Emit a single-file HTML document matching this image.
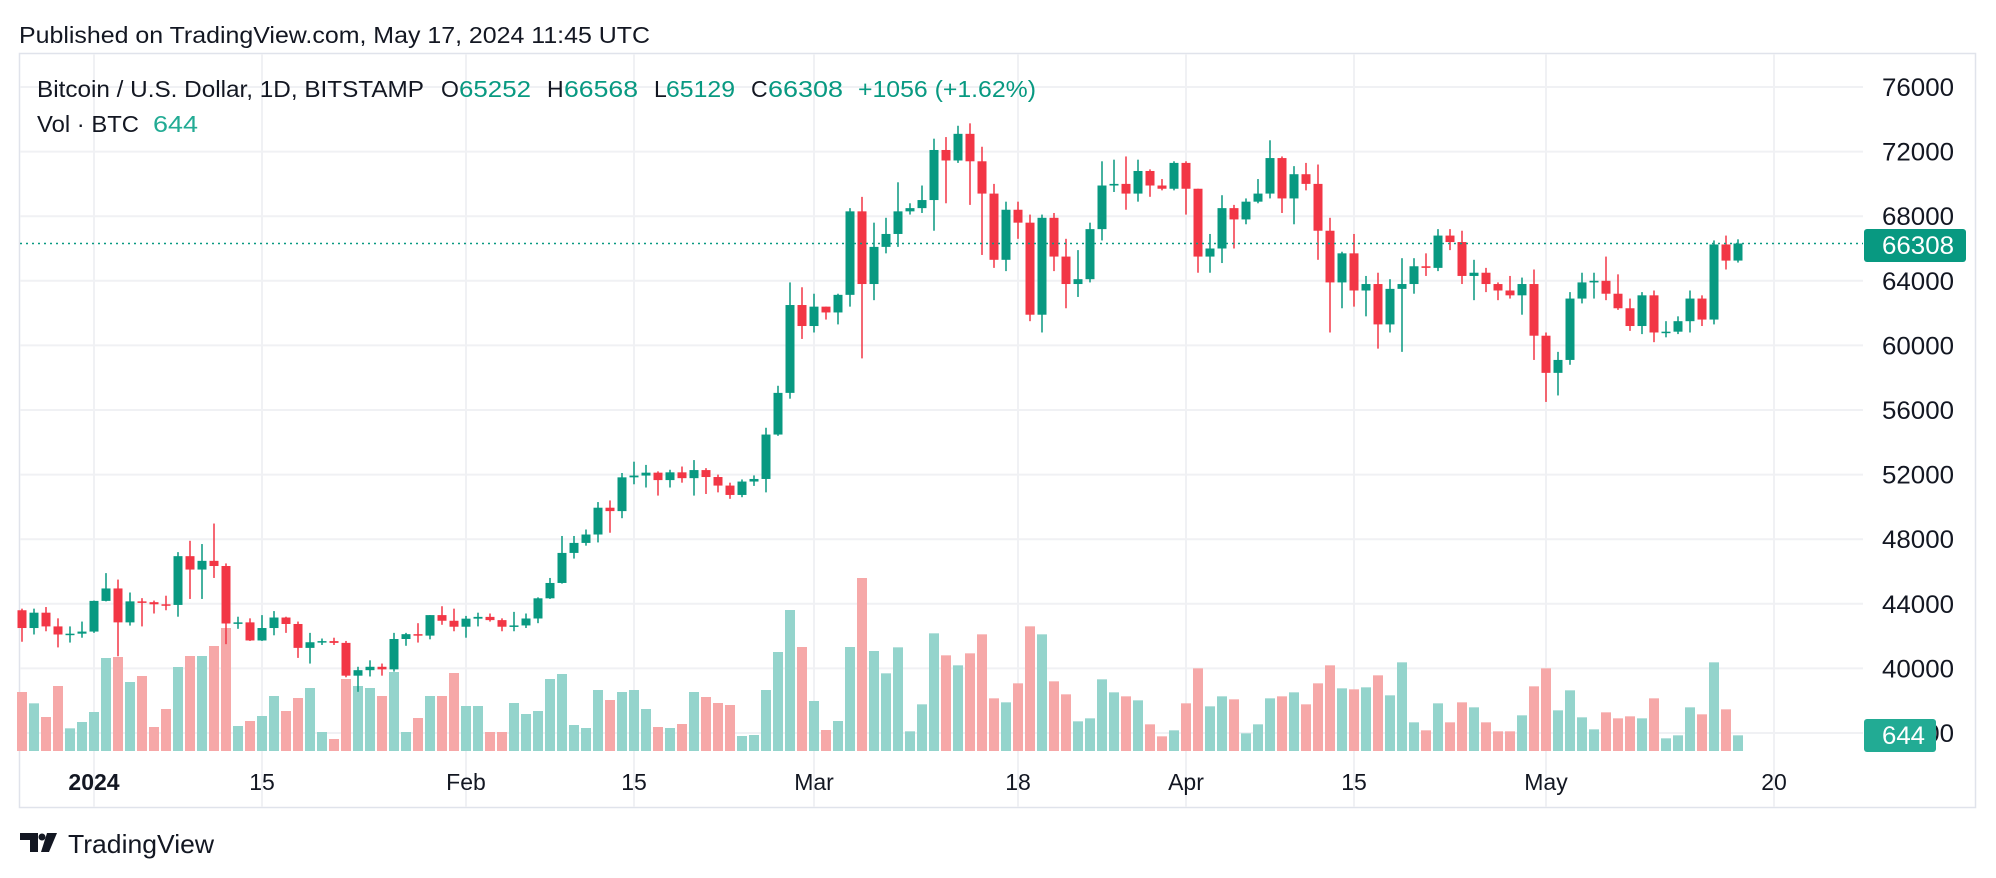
<!DOCTYPE html>
<html><head><meta charset="utf-8"><style>
html,body{margin:0;padding:0;background:#fff;width:1996px;height:878px;overflow:hidden}
svg{display:block;font-family:"Liberation Sans",sans-serif}
</style></head><body>
<svg id="s" width="1996" height="878" viewBox="0 0 1996 878" xmlns="http://www.w3.org/2000/svg">
<rect x="0" y="0" width="1996" height="878" fill="#fff"/>
<text x="19" y="43" font-size="23" fill="#131722" textLength="631" lengthAdjust="spacingAndGlyphs">Published on TradingView.com, May 17, 2024 11:45 UTC</text>
<rect x="19.5" y="53.5" width="1956" height="754" fill="none" stroke="#e0e3eb" stroke-width="1.5"/>
<g id="grid"></g>
<g id="vol"></g>
<g id="cand"></g>
<line x1="20" y1="243.5" x2="1863" y2="243.5" stroke="#089981" stroke-width="1.5" stroke-dasharray="2,4"/>
<g id="axis" font-size="25" fill="#131722"></g>
<rect x="1864" y="229" width="102" height="33" rx="3" fill="#089981"/>
<text x="1882" y="254" font-size="25" fill="#fff" textLength="72" lengthAdjust="spacingAndGlyphs">66308</text>
<rect x="1864" y="719" width="72" height="33" rx="3" fill="#22ab94"/>
<text x="1882" y="744" font-size="25" fill="#fff" textLength="43" lengthAdjust="spacingAndGlyphs">644</text>
<g font-size="23">
<text x="37" y="97" fill="#131722" textLength="387" lengthAdjust="spacingAndGlyphs">Bitcoin / U.S. Dollar, 1D, BITSTAMP</text>
<text x="441" y="97" fill="#131722">O</text><text x="459" y="97" fill="#089981" textLength="72" lengthAdjust="spacingAndGlyphs">65252</text>
<text x="547" y="97" fill="#131722">H</text><text x="564" y="97" fill="#089981" textLength="74" lengthAdjust="spacingAndGlyphs">66568</text>
<text x="654" y="97" fill="#131722">L</text><text x="666" y="97" fill="#089981" textLength="69" lengthAdjust="spacingAndGlyphs">65129</text>
<text x="751" y="97" fill="#131722">C</text><text x="768" y="97" fill="#089981" textLength="75" lengthAdjust="spacingAndGlyphs">66308</text>
<text x="858" y="97" fill="#089981" textLength="178" lengthAdjust="spacingAndGlyphs">+1056 (+1.62%)</text>
<text x="37" y="132" fill="#131722" textLength="102" lengthAdjust="spacingAndGlyphs">Vol · BTC</text>
<text x="153" y="132" fill="#22ab94" textLength="45" lengthAdjust="spacingAndGlyphs">644</text>
</g>
<g id="xl" font-size="23" fill="#131722"></g>
<g fill="#131722">
<path d="M20 833 H38 V852 H30 V840 H20 Z"/>
<circle cx="42" cy="837" r="3.5"/>
<path d="M47 833 H57 L49 852 H41 Z"/>
<text x="68" y="853" font-size="26" textLength="146" lengthAdjust="spacingAndGlyphs">TradingView</text>
</g>
</svg>
<script>
var NS="http://www.w3.org/2000/svg";
function el(p,t,a,txt){var e=document.createElementNS(NS,t);for(var k in a)e.setAttribute(k,a[k]);if(txt)e.textContent=txt;document.getElementById(p).appendChild(e);return e;}
function Y(p){return 87+(76000-p)*0.01615;}
var D=[[43600,42500,43700,41650],[42500,43450,43700,42100],[43450,42600,43800,42300],[42600,42100,43100,41300],[42100,42150,42600,41600],[42150,42280,42900,41900],
[42280,44180,44200,42200],[44180,44950,45900,44150],[44950,42850,45500,40750],[42850,44150,44700,42650],[44150,44100,44350,42600],[44100,43970,44200,43400],[43970,43930,44500,43600],[43930,46950,47200,43200],[46950,46120,47900,44300],[46120,46660,47700,44300],[46660,46340,48970,45600],[46340,42780,46500,41500],[42780,42850,43200,42450],[42850,41730,43100,41700],[41730,42500,43300,41700],[42500,43150,43550,42050],[43150,42750,43200,42200],[42750,41270,42900,40650],[41270,41620,42200,40300],[41620,41690,41850,41450],[41690,41580,41900,41450],[41580,39550,41700,39450],[39550,39890,40100,38550],[39890,40100,40500,39500],[40100,39940,40300,39550],[39940,41820,42200,39800],[41820,42120,42200,41400],[42120,42030,42800,41600],[42030,43300,43300,41800],[43300,42950,43850,42700],[42950,42580,43700,42300],
[42580,43080,43250,41900],[43080,43190,43450,42600],[43190,42990,43400,42900],[42990,42580,43100,42300],[42580,42660,43500,42300],[42660,43090,43400,42500],[43090,44340,44400,42800],[44340,45290,45600,44300],[45290,47150,48200,45250],[47150,47770,48200,46800],[47770,48290,48600,47600],[48290,49950,50300,47800],[49950,49740,50400,48400],[49740,51830,52100,49300],[51830,51940,52800,51400],[51940,52120,52600,51200],[52120,51660,52200,50700],[51660,52140,52300,51200],[52140,51780,52500,51500],[51780,52280,52900,50700],[52280,51850,52400,50800],[51850,51320,52000,50900],[51320,50740,51500,50500],[50740,51570,51700,50600],[51570,51730,51950,51300],[51730,54480,54900,50900],[54480,57060,57500,54400],[57060,62500,63900,56700],[62500,61200,63600,60400],
[61200,62400,63200,60800],[62400,62040,62400,61600],[62040,63130,63200,61300],[63130,68300,68500,62400],[68300,63800,69200,59200],[63800,66100,67600,62800],[66100,66900,67900,65700],[66900,68300,70100,66100],[68300,68500,68800,68100],[68500,69000,69900,68200],[69000,72100,72800,67100],[72100,71450,72900,68800],[71450,73100,73600,71300],[73100,71400,73750,68700],[71400,69400,72300,65600],[69400,65300,70000,64800],[65300,68400,68900,64600],[68400,67600,68900,66600],[67600,61900,68100,61500],[61900,67900,68100,60800],[67900,65500,68200,64600],[65500,63800,66600,62300],[63800,64100,65900,63000],[64100,67200,67600,63900],[67200,69900,71400,66500],[69900,70000,71500,69500],[70000,69400,71700,68400],[69400,70800,71500,68900],[70800,69900,70900,69200],[69900,69700,70300,69600],[69700,71300,71400,69600],
[71300,69700,71400,68100],[69700,65500,69700,64500],[65500,66000,66900,64500],[66000,68500,69300,65100],[68500,67800,68700,66000],[67800,68900,69100,67500],[68900,69400,70300,68800],[69400,71600,72700,69100],[71600,69100,71700,68200],[69100,70600,71100,67500],[70600,70000,71300,69600],[70000,67100,71200,65300],[67100,63900,67900,60800],[63900,65700,65800,62300],[65700,63400,66900,62400],[63400,63800,64300,61800],[63800,61300,64500,59800],[61300,63500,64100,60800],[63500,63800,65400,59600],[63800,64900,65400,63200],[64900,64800,65700,64300],[64800,66800,67200,64600],[66800,66400,67200,65900],[66400,64300,67100,63800],[64300,64500,65300,62800],[64500,63800,64800,63300],[63800,63400,63900,62800],[63400,63100,64300,62900],[63100,63800,64200,61900],[63800,60600,64700,59100],
[60600,58300,60800,56500],[58300,59100,59600,56900],[59100,62900,63300,58800],[62900,63900,64500,62600],[63900,64000,64500,62900],[64000,63200,65500,62800],[63200,62300,64400,62200],[62300,61200,62900,60900],[61200,63100,63300,60700],[63100,60800,63400,60200],[60800,60850,61500,60500],[60850,61500,61800,60700],[61500,62900,63400,60800],[62900,61600,63100,61200],[61600,66250,66500,61300],[66250,65250,66800,64700],[65252,66308,66568,65129]];
var V=[177,143,102,195,68,87,117,279,282,207,225,72,126,252,285,285,315,369,75,90,105,165,120,159,189,57,36,216,195,189,165,237,57,99,165,165,234,135,135,57,57,144,111,120,216,231,78,69,183,153,177,183,126,72,69,81,177,162,144,138,45,48,183,297,423,312,150,63,90,312,519,300,
233,311,59,140,353,287,257,293,350,158,146,203,374,350,209,170,89,98,215,176,164,152,80,44,62,143,248,134,164,155,53,80,158,164,176,140,203,257,188,185,191,227,167,266,86,62,143,86,146,131,86,59,59,107,194,248,122,182,101,65,116,98,104,98,158,38,47,131,110,266,125,47];
// grid
for(var p=36000;p<=76000;p+=4000){var y=Y(p);el("grid","line",{x1:20,x2:1863,y1:y,y2:y,stroke:"#f0f1f4","stroke-width":2});
 el("axis","text",{x:1882,y:y+9,textLength:72,lengthAdjust:"spacingAndGlyphs"},String(p));}
var XL=[[0,"2024",1],[14,"15"],[31,"Feb"],[45,"15"],[60,"Mar"],[77,"18"],[91,"Apr"],[105,"15"],[121,"May"],[140,"20"]];
XL.forEach(function(a){var x=94+12*a[0];el("grid","line",{x1:x,x2:x,y1:54,y2:807,stroke:"#f0f1f4","stroke-width":2});
 var t=el("xl","text",{x:x,y:790,"text-anchor":"middle"},a[1]);if(a[2])t.setAttribute("font-weight","bold");});
for(var i=0;i<D.length;i++){var d=i-6,x=94+12*d,o=D[i][0],c=D[i][1],h=D[i][2],l=D[i][3];var up=c>=o;
 var vh=V[i]/3;el("vol","rect",{x:x-5,y:751-vh,width:10,height:vh,fill:up?"#94d4cc":"#f6a8a8"});
 var col=up?"#089981":"#f23645";
 el("cand","line",{x1:x,x2:x,y1:Y(h),y2:Y(l),stroke:col,"stroke-width":1.5});
 var yt=Y(Math.max(o,c)),yb=Y(Math.min(o,c));if(yb-yt<1.5)yb=yt+1.5;
 el("cand","rect",{x:x-4.5,y:yt,width:9,height:yb-yt,fill:col});}
</script>
</body></html>
